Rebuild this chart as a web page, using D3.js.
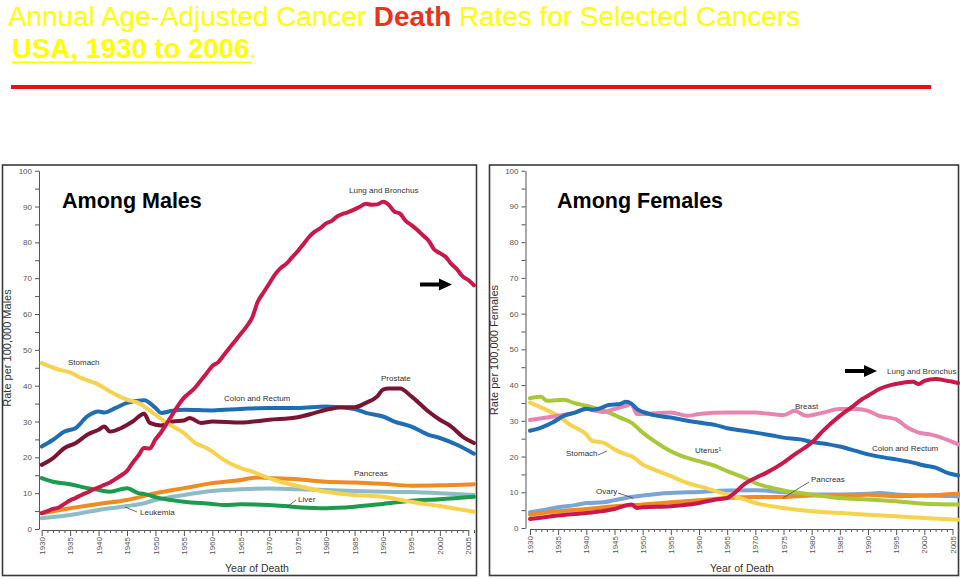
<!DOCTYPE html>
<html><head><meta charset="utf-8">
<script src="https://cdn.jsdelivr.net/npm/d3@7"></script>
<style>
html,body{margin:0;padding:0;background:#fff;}
svg{display:block;font-family:"Liberation Sans",Arial,sans-serif;}
</style></head>
<body>
<svg id="chart" width="960" height="579"></svg>
<script>
// ---------- DATA ----------
const yTickValues = d3.range(0, 101, 5);
const xTickYears = d3.range(1930, 2007);

// Males
const maleLung = [[1930,4.4],[1931,5.0],[1932,5.6],[1933,6.0],[1934,7.0],[1935,8.0],[1936,8.7],[1937,9.5],[1938,10.2],[1939,11.0],[1940,11.6],[1941,12.3],[1942,13.0],[1943,14.0],[1944,15.0],[1945,16.2],[1946,18.5],[1947,20.5],[1948,22.6],[1949,22.5],[1950,25.0],[1951,27.0],[1952,29.5],[1953,32.0],[1954,34.5],[1955,36.6],[1956,38.0],[1957,39.5],[1958,41.5],[1959,43.5],[1960,45.5],[1961,46.5],[1962,48.5],[1963,50.5],[1964,52.5],[1965,54.5],[1966,56.5],[1967,59.0],[1968,63.5],[1969,66.0],[1970,68.5],[1971,71.0],[1972,72.8],[1973,74.0],[1974,75.8],[1975,77.5],[1976,79.5],[1977,81.5],[1978,83.0],[1979,84.0],[1980,85.3],[1981,86.0],[1982,87.3],[1983,88.0],[1984,88.5],[1985,89.2],[1986,90.0],[1987,90.8],[1988,90.5],[1989,90.6],[1990,91.3],[1991,90.5],[1992,88.6],[1993,88.0],[1994,86.0],[1995,84.8],[1996,83.5],[1997,82.0],[1998,80.5],[1999,78.0],[2000,77.0],[2001,76.0],[2002,74.0],[2003,72.5],[2004,70.5],[2005,69.5],[2006,68.0]];
const maleStomach = [[1930,46.3],[1933,44.5],[1935,43.7],[1937,42.1],[1940,40.3],[1942,38.4],[1945,36.1],[1947,35.2],[1948,34.2],[1950,31.9],[1952,29.6],[1955,26.8],[1957,24.0],[1959,22.6],[1960,21.6],[1962,19.3],[1965,17.0],[1967,16.0],[1970,14.2],[1972,13.2],[1975,12.0],[1980,10.4],[1985,9.5],[1990,9.0],[1995,7.6],[2000,6.4],[2006,4.8]];
const maleColon = [[1930,23.0],[1932,24.9],[1934,27.2],[1936,28.2],[1938,31.4],[1940,32.8],[1941,32.5],[1943,33.8],[1945,35.2],[1948,35.9],[1950,33.8],[1951,32.4],[1953,33.0],[1955,33.3],[1960,33.1],[1965,33.5],[1970,33.8],[1975,33.8],[1980,34.2],[1985,33.5],[1987,32.4],[1990,31.4],[1992,30.0],[1995,28.6],[1998,26.3],[2000,25.4],[2003,23.5],[2006,21.0]];
const maleProstate = [[1930,17.9],[1932,19.8],[1934,22.6],[1936,24.0],[1938,26.3],[1940,27.7],[1941,28.6],[1942,27.2],[1944,28.2],[1946,30.0],[1948,32.2],[1949,29.6],[1951,28.9],[1953,30.0],[1955,30.3],[1956,31.0],[1958,29.6],[1960,30.0],[1965,29.7],[1970,30.5],[1975,31.2],[1978,32.4],[1980,33.3],[1983,34.0],[1985,34.0],[1987,35.2],[1989,37.0],[1990,38.9],[1991,39.2],[1993,39.2],[1995,37.0],[1997,34.2],[1998,32.8],[2000,30.5],[2002,28.6],[2004,25.8],[2006,24.0]];
const malePancreas = [[1930,4.4],[1935,5.8],[1940,7.0],[1945,8.1],[1950,10.0],[1955,11.4],[1960,12.8],[1965,13.7],[1968,14.4],[1970,14.2],[1975,13.9],[1980,13.2],[1985,13.0],[1990,12.6],[1995,12.1],[2000,12.2],[2006,12.5]];
const maleLeukemia = [[1930,3.0],[1935,3.9],[1940,5.3],[1945,6.4],[1948,7.2],[1950,8.1],[1955,9.5],[1960,10.6],[1965,11.1],[1970,11.3],[1975,11.1],[1980,10.9],[1985,10.6],[1990,10.4],[1995,10.3],[2000,10.0],[2006,9.5]];
const maleLiver = [[1930,14.2],[1932,13.2],[1935,12.5],[1938,11.4],[1940,10.9],[1942,10.4],[1945,11.4],[1947,10.0],[1948,9.8],[1950,8.9],[1955,7.6],[1960,7.0],[1962,6.7],[1965,6.9],[1970,6.7],[1975,6.1],[1980,5.8],[1985,6.2],[1990,7.0],[1995,7.9],[2000,8.3],[2006,9.0]];

// Females
const femaleLung = [[1930,2.5],[1935,3.5],[1940,4.2],[1945,5.3],[1948,6.6],[1949,5.6],[1950,5.8],[1955,6.1],[1960,7.0],[1963,8.0],[1965,8.4],[1966,9.4],[1968,12.2],[1970,14.0],[1972,15.5],[1975,18.3],[1977,20.6],[1980,23.9],[1982,27.2],[1985,31.4],[1987,33.7],[1989,36.1],[1990,37.0],[1992,38.9],[1994,40.0],[1996,40.6],[1998,40.9],[1999,40.3],[2000,41.2],[2002,41.7],[2004,41.2],[2006,40.6]];
const femaleBreast = [[1930,30.2],[1933,30.9],[1935,31.4],[1938,32.3],[1940,33.3],[1943,32.5],[1945,33.3],[1947,34.2],[1948,34.7],[1949,31.9],[1950,31.9],[1955,32.3],[1958,31.4],[1960,31.9],[1965,32.3],[1970,32.3],[1975,31.6],[1977,32.8],[1979,31.4],[1982,32.3],[1985,33.3],[1988,33.3],[1990,32.8],[1992,31.4],[1995,30.4],[1997,28.1],[1999,26.7],[2001,26.2],[2003,25.3],[2006,23.4]];
const femaleColon = [[1930,27.2],[1932,28.1],[1934,29.5],[1936,31.4],[1938,32.3],[1940,33.4],[1941,33.1],[1942,33.3],[1944,34.4],[1946,34.7],[1947,35.3],[1948,34.8],[1949,33.3],[1950,32.5],[1952,31.6],[1955,30.9],[1957,30.3],[1960,29.5],[1963,28.8],[1965,27.9],[1968,27.2],[1970,26.7],[1973,25.9],[1975,25.3],[1978,24.8],[1980,24.1],[1983,23.4],[1985,22.8],[1988,21.5],[1990,20.6],[1993,19.7],[1995,19.2],[1998,18.3],[2000,17.5],[2002,16.9],[2004,15.5],[2006,14.7]];
const femaleUterus = [[1930,36.3],[1932,36.7],[1933,35.6],[1936,35.9],[1938,34.9],[1940,34.2],[1942,33.3],[1944,32.3],[1946,30.9],[1948,29.5],[1950,26.7],[1952,24.4],[1955,21.5],[1957,20.1],[1960,18.7],[1963,17.3],[1965,15.9],[1968,14.1],[1970,12.6],[1973,11.2],[1975,10.5],[1978,9.8],[1980,9.4],[1985,8.4],[1990,8.0],[1995,7.5],[2000,6.8],[2006,6.6]];
const femaleStomach = [[1930,35.1],[1932,33.7],[1935,31.4],[1937,29.0],[1940,26.2],[1941,24.4],[1943,23.9],[1945,22.0],[1947,20.6],[1948,20.1],[1950,17.8],[1952,16.4],[1955,14.5],[1958,12.6],[1960,11.7],[1963,10.3],[1965,9.4],[1968,8.0],[1970,7.0],[1975,5.6],[1980,4.7],[1985,4.2],[1990,3.7],[1995,3.3],[2000,2.8],[2006,2.3]];
const femaleOvary = [[1930,4.4],[1933,5.2],[1935,5.8],[1938,6.4],[1940,7.0],[1943,7.2],[1945,7.8],[1948,8.7],[1950,9.1],[1953,9.6],[1955,9.8],[1960,10.1],[1965,10.5],[1970,10.6],[1975,10.0],[1980,9.4],[1985,9.4],[1990,9.6],[1992,9.8],[1995,9.4],[2000,9.1],[2006,8.9]];
const femalePancreas = [[1930,3.7],[1935,4.7],[1940,5.3],[1945,6.1],[1950,6.6],[1955,7.2],[1960,7.8],[1965,8.4],[1970,8.7],[1975,8.7],[1980,9.1],[1985,9.1],[1990,9.3],[1995,8.9],[2000,9.1],[2006,9.6]];

// ---------- DRAW ----------
const svg = d3.select("#chart");
const C = {
  lung:"#c9184a", prostate:"#7a1433", colon:"#1f6db4", stomach:"#f7d24e",
  pancreas:"#f08a22", leukemia:"#8dbcc6", liver:"#1c9a4e",
  breast:"#e884b0", uterus:"#a8c83a", ovary:"#7aa5d5"
};

// Title
const yellow = "#ffff00";
function fitText(sel, target){
  const w = sel.node().getBBox().width;
  const x0 = +sel.attr("x"), y0 = +sel.attr("y");
  sel.attr("transform", `translate(${x0},${y0}) scale(${target/w},1) translate(${-x0},${-y0})`);
}
const t1 = svg.append("text").attr("x",8).attr("y",26).attr("font-size",28).attr("fill",yellow);
t1.append("tspan").text("Annual Age-Adjusted Cancer ");
t1.append("tspan").attr("fill","#e8341c").attr("font-weight","bold").text("Death");
t1.append("tspan").text(" Rates for Selected Cancers");
fitText(t1, 792);

const t2 = svg.append("text").attr("x",12).attr("y",58).attr("font-size",28).attr("fill",yellow);
t2.append("tspan").attr("font-weight","bold").text("USA, 1930 to 2006");
t2.append("tspan").text(".");
fitText(t2, 245);
svg.append("line").attr("x1",12).attr("x2",251).attr("y1",62.5).attr("y2",62.5)
  .attr("stroke",yellow).attr("stroke-width",2);

svg.append("line").attr("x1",11).attr("x2",931).attr("y1",87).attr("y2",87)
  .attr("stroke","#e0141a").attr("stroke-width",4);

function panel(cfg){
  const g = svg.append("g");
  g.append("rect").attr("x",cfg.box[0]).attr("y",cfg.box[1]).attr("width",cfg.box[2]).attr("height",cfg.box[3])
    .attr("fill","#fff").attr("stroke","#3a3a3a").attr("stroke-width",1.6);
  const x = d3.scaleLinear().domain([1930,2005]).range(cfg.xr);
  const y = d3.scaleLinear().domain([0,100]).range(cfg.yr);

  // Y axis
  const ya = g.append("g").attr("transform",`translate(${cfg.axisX},0)`)
    .call(d3.axisLeft(y).tickValues(yTickValues).tickSize(4).tickSizeOuter(0)
      .tickFormat(d => d % 10 === 0 ? d : ""));
  ya.select(".domain").attr("stroke","#555");
  ya.selectAll(".tick line").attr("stroke","#555");
  ya.selectAll(".tick text").attr("fill","#555").attr("font-size",8).attr("x",-7)
    .attr("font-family","Liberation Sans, Arial, sans-serif");

  // X axis
  const xa = g.append("g").attr("transform",`translate(0,${y(0)+1})`)
    .call(d3.axisBottom(x).tickValues(xTickYears).tickSize(3).tickSizeOuter(0)
      .tickFormat(d => d % 5 === 0 ? d : ""));
  xa.select(".domain").attr("stroke","#555");
  xa.selectAll(".tick line").attr("stroke","#555").attr("y2", d => d % 5 === 0 ? 6 : 3);
  xa.selectAll(".tick text").attr("fill","#555").attr("font-size",8)
    .attr("font-family","Liberation Sans, Arial, sans-serif")
    .attr("transform","rotate(-90)").attr("text-anchor","end")
    .attr("x",-7).attr("y",0).attr("dy","0.32em");

  // axis titles
  g.append("text").attr("transform",`translate(${cfg.ylabX},${cfg.ylabY}) rotate(-90)`)
    .attr("text-anchor","middle").attr("font-size",11).attr("fill","#333").text(cfg.ylabel);
  g.append("text").attr("x",cfg.xlabX).attr("y",572).attr("text-anchor","middle")
    .attr("font-size",10.5).attr("fill","#333").text("Year of Death");

  // panel heading
  g.append("text").attr("x",cfg.headX).attr("y",208).attr("font-size",21.5).attr("font-weight","bold")
    .attr("fill","#000").text(cfg.heading);

  // lines
  const line = d3.line().x(d => x(d[0])).y(d => y(d[1])).curve(d3.curveMonotoneX);
  cfg.series.forEach(s => {
    g.append("path").datum(s.data).attr("d",line).attr("fill","none")
      .attr("stroke",s.color).attr("stroke-width",4).attr("stroke-linejoin","round").attr("stroke-linecap","round");
  });

  // labels
  cfg.labels.forEach(l => {
    g.append("text").attr("x",l[1]).attr("y",l[2]).attr("font-size",8).attr("fill","#333").text(l[0]);
  });
  cfg.leaders.forEach(p => {
    g.append("line").attr("x1",p[0]).attr("y1",p[1]).attr("x2",p[2]).attr("y2",p[3])
      .attr("stroke","#444").attr("stroke-width",0.8);
  });

  // arrow
  const [ax, ay] = cfg.arrow;
  g.append("line").attr("x1",ax).attr("x2",ax+20).attr("y1",ay).attr("y2",ay).attr("stroke","#000").attr("stroke-width",4);
  g.append("path").attr("d",`M${ax+19},${ay-6}L${ax+32},${ay}L${ax+19},${ay+6}Z`).attr("fill","#000");
}

panel({
  box:[2.5,165,474,410.5], xr:[41.7,468.3], yr:[529,170.7], axisX:39,
  ylabel:"Rate per 100,000 Males", ylabX:11, ylabY:348, xlabX:257,
  heading:"Among Males", headX:62,
  series:[
    {data:maleLeukemia,color:C.leukemia},{data:malePancreas,color:C.pancreas},
    {data:maleLiver,color:C.liver},{data:maleColon,color:C.colon},
    {data:maleProstate,color:C.prostate},{data:maleStomach,color:C.stomach},
    {data:maleLung,color:C.lung}
  ],
  labels:[["Lung and Bronchus",349,193],["Stomach",68,365],["Prostate",381,381],
    ["Colon and Rectum",224,401],["Pancreas",354,476],["Liver",298,502],["Leukemia",140,515]],
  leaders:[[287,507,296,500],[125,507,137,512]],
  arrow:[420,284.5]
});

panel({
  box:[489.5,165,469,410.5], xr:[530,952.5], yr:[528,170.7], axisX:525.5,
  ylabel:"Rate per 100,000 Females", ylabX:498, ylabY:350, xlabX:742,
  heading:"Among Females", headX:557,
  series:[
    {data:femaleOvary,color:C.ovary},{data:femalePancreas,color:C.pancreas},
    {data:femaleStomach,color:C.stomach},{data:femaleUterus,color:C.uterus},
    {data:femaleBreast,color:C.breast},{data:femaleColon,color:C.colon},
    {data:femaleLung,color:C.lung}
  ],
  labels:[["Lung and Bronchus",887,374],["Breast",795,409],["Stomach",566,456],
    ["Uterus\u00B9",695,453],["Colon and Rectum",872,451],["Pancreas",811,482],["Ovary",596,494]],
  leaders:[[598,455,607,451],[783,498,809,482],[618,493,633,498]],
  arrow:[845,371]
});
</script>
</body></html>
